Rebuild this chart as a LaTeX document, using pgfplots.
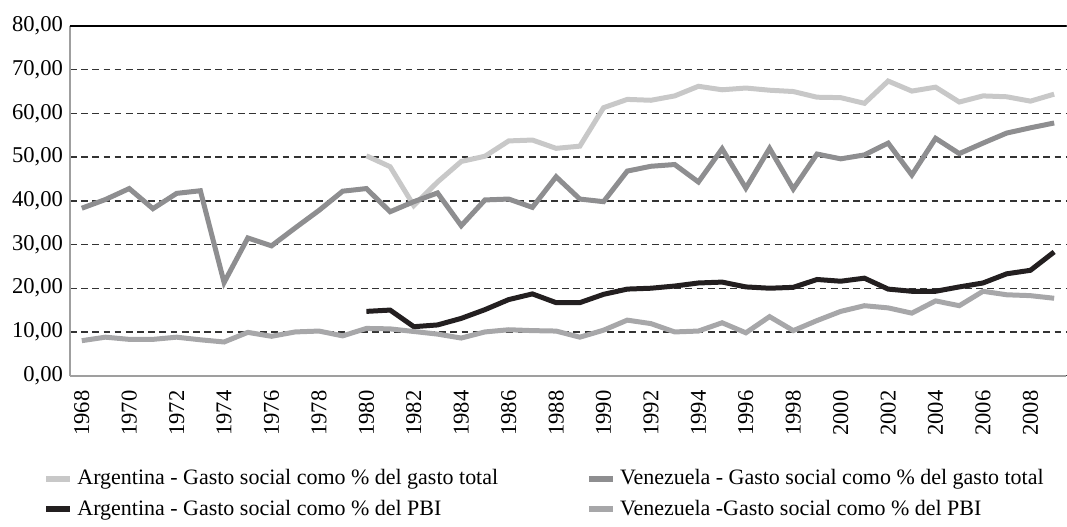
\documentclass[border=0pt]{standalone}
\usepackage{fontspec}
\setmainfont{Liberation Serif}
\usepackage{pgfplots}
\pgfplotsset{compat=1.18}
\usetikzlibrary{calc}
\definecolor{argtot}{HTML}{C8C8C8}
\definecolor{ventot}{HTML}{8E8E90}
\definecolor{argpbi}{HTML}{231F20}
\definecolor{venpbi}{HTML}{A7A7A9}

\begin{document}
\begin{tikzpicture}
\begin{axis}[
  name=ax,
  scale only axis,
  width=498.5pt,height=175pt,
  xmin=1967.5,xmax=2009.5,
  ymin=0,ymax=80,
  xtick={1968,1970,...,2008},
  ytick={0,10,...,80},
  axis x line*=bottom,axis y line*=left,
  axis line style={draw=gray!75,line width=1pt,-},
  major tick length=0pt,
  ymajorgrids,
  grid style={black!80,line width=0.7pt,dash pattern=on 3.4pt off 2.2pt},
  tick label style={font=\fontsize{11.3}{13.5}\selectfont},
  /pgf/number format/assume math mode=true,
  yticklabel style={/pgf/number format/.cd,use comma,fixed,fixed zerofill,precision=2},
  xticklabel shift=4pt,
  xticklabel style={rotate=90,anchor=east,/pgf/number format/1000 sep={}},
  legend columns=2,
  legend cell align=left,
  legend style={draw=none,fill=none,at={(-0.033,-0.245)},anchor=north west,
    font=\fontsize{11}{13.5}\selectfont,row sep=2pt,
    /tikz/every even column/.append style={column sep=42pt}},
  legend image code/.code={\draw[#1,line width=3pt] (0pt,0pt) -- (12pt,0pt);},
]
\addplot[argtot,line width=2.5pt] coordinates {
(1980,50.3)(1981,47.8)(1982,38.9)(1983,44.3)(1984,49.0)(1985,50.2)(1986,53.7)(1987,53.9)(1988,52.0)(1989,52.5)
(1990,61.3)(1991,63.2)(1992,63.0)(1993,64.0)(1994,66.2)(1995,65.4)(1996,65.8)(1997,65.3)(1998,65.0)(1999,63.7)
(2000,63.6)(2001,62.3)(2002,67.4)(2003,65.1)(2004,66.0)(2005,62.6)(2006,64.0)(2007,63.8)(2008,62.8)(2009,64.4)};
\addlegendentry{Argentina - Gasto social como \% del gasto total}
\addplot[ventot,line width=2.5pt] coordinates {
(1968,38.3)(1969,40.3)(1970,42.8)(1971,38.2)(1972,41.7)(1973,42.3)(1974,21.3)(1975,31.5)(1976,29.7)(1977,33.8)
(1978,37.8)(1979,42.2)(1980,42.8)(1981,37.5)(1982,39.8)(1983,41.8)(1984,34.3)(1985,40.2)(1986,40.4)(1987,38.5)
(1988,45.5)(1989,40.4)(1990,39.8)(1991,46.8)(1992,47.9)(1993,48.3)(1994,44.3)(1995,51.9)(1996,42.9)(1997,52.0)
(1998,42.7)(1999,50.7)(2000,49.6)(2001,50.5)(2002,53.2)(2003,45.9)(2004,54.3)(2005,50.8)(2006,53.2)(2007,55.5)
(2008,56.7)(2009,57.8)};
\addlegendentry{Venezuela - Gasto social como \% del gasto total}
\addplot[argpbi,line width=2.5pt] coordinates {
(1980,14.7)(1981,15.0)(1982,11.2)(1983,11.6)(1984,13.1)(1985,15.1)(1986,17.4)(1987,18.7)(1988,16.7)(1989,16.7)
(1990,18.6)(1991,19.8)(1992,20.0)(1993,20.5)(1994,21.2)(1995,21.4)(1996,20.3)(1997,20.0)(1998,20.2)(1999,22.0)
(2000,21.6)(2001,22.3)(2002,19.8)(2003,19.3)(2004,19.3)(2005,20.3)(2006,21.2)(2007,23.3)(2008,24.1)(2009,28.3)};
\addlegendentry{Argentina - Gasto social como \% del PBI}
\addplot[venpbi,line width=2.5pt] coordinates {
(1968,8.0)(1969,8.8)(1970,8.3)(1971,8.3)(1972,8.8)(1973,8.2)(1974,7.7)(1975,9.9)(1976,9.0)(1977,10.0)
(1978,10.2)(1979,9.1)(1980,10.8)(1981,10.7)(1982,10.1)(1983,9.5)(1984,8.6)(1985,10.0)(1986,10.5)(1987,10.3)
(1988,10.2)(1989,8.8)(1990,10.4)(1991,12.7)(1992,11.9)(1993,10.0)(1994,10.2)(1995,12.1)(1996,9.8)(1997,13.5)
(1998,10.3)(1999,12.6)(2000,14.7)(2001,16.0)(2002,15.5)(2003,14.3)(2004,17.1)(2005,16.0)(2006,19.3)(2007,18.5)
(2008,18.3)(2009,17.7)};
\addlegendentry{Venezuela -Gasto social como \% del PBI}
\end{axis}
\draw[black,line width=0.8pt] (ax.north west) -- (ax.north east);
\path ($(ax.south west)+(-35pt,-70.5pt)$) rectangle ($(ax.north east)+(0pt,13pt)$);
\end{tikzpicture}
\end{document}
